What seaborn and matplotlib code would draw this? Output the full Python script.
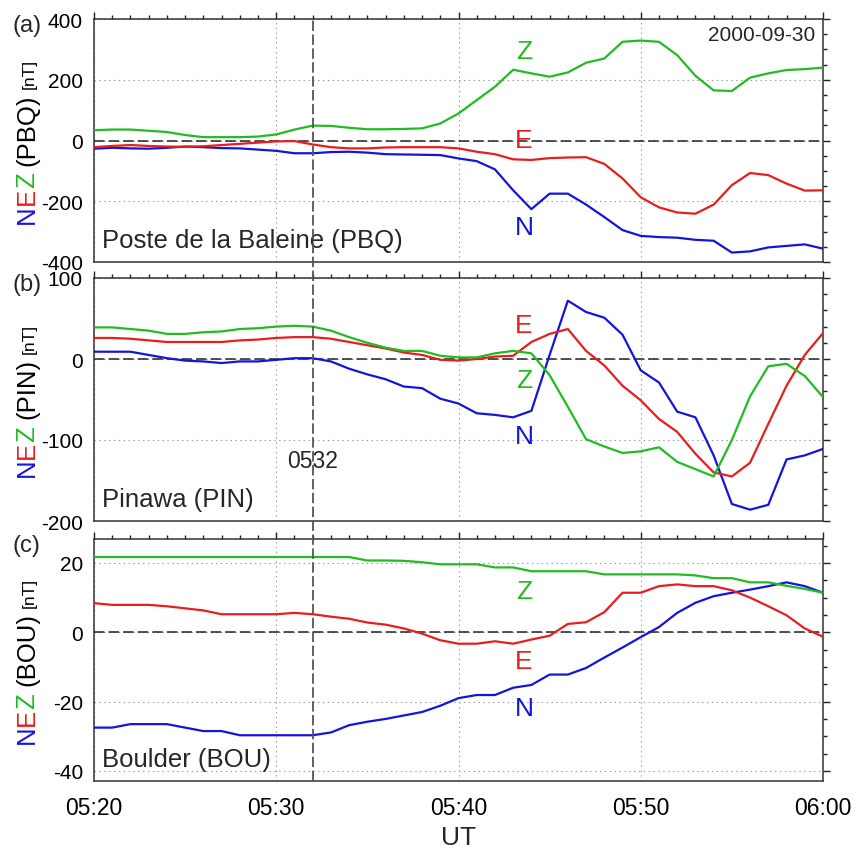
import numpy as np
import pandas as pd
import seaborn as sns
import matplotlib.pyplot as plt
import matplotlib.dates as mdates
from matplotlib.lines import Line2D
from matplotlib.ticker import MultipleLocator
from matplotlib.transforms import blended_transform_factory

# -------------------------------
# Data (1-min values, 05:20-06:00 UT, 2000-09-30)
# -------------------------------
start_time = "2000-09-30 05:20"
n_minutes = 41

pbq_n = [-27, -24, -26, -27, -24, -20, -22, -25, -26, -30, -34, -42, -42, -38, -37, -40, -45, -46, -47,
         -48, -59, -68, -95, -164, -226, -175, -175, -211, -252, -295, -314, -318, -320, -327, -330,
         -369, -365, -352, -347, -342, -356]
pbq_e = [-22, -18, -15, -18, -20, -21, -19, -15, -11, -7, -3, -2, -13, -22, -26, -26, -23, -22, -22,
         -22, -26, -37, -45, -62, -64, -58, -56, -55, -77, -125, -187, -220, -237, -241, -211,
         -147, -107, -114, -142, -165, -164]
pbq_z = [34, 36, 36, 32, 28, 18, 11, 11, 11, 13, 20, 36, 49, 48, 42, 37, 37, 38, 40,
         56, 89, 133, 177, 233, 221, 210, 224, 256, 270, 325, 329, 325, 281, 213, 165,
         163, 207, 221, 232, 235, 240]

pin_n = [9, 9, 9, 5, 1, -2, -3, -5, -3, -3, -1, 1, 1, -3, -12, -19, -25, -34, -36,
         -49, -55, -67, -69, -72, -64, 5, 72, 58, 51, 30, -14, -29, -65, -72, -119,
         -179, -186, -180, -124, -119, -111]
pin_e = [26, 26, 25, 23, 21, 21, 21, 21, 23, 24, 26, 27, 27, 25, 21, 17, 13, 8, 5,
         -1, -2, 0, 3, 4, 21, 31, 37, 10, -8, -33, -51, -74, -90, -117, -140,
         -145, -128, -80, -33, 5, 32]
pin_z = [39, 39, 37, 35, 31, 31, 33, 34, 37, 38, 40, 41, 40, 35, 27, 20, 14, 10, 10,
         4, 2, 2, 7, 10, 7, -20, -59, -99, -108, -116, -114, -109, -127, -136, -145,
         -100, -46, -9, -6, -21, -47]

bou_n = [-27.5, -27.5, -26.5, -26.5, -26.5, -27.5, -28.5, -28.5, -29.7, -29.7, -29.7, -29.7, -29.7,
         -28.9, -26.8, -25.8, -25.0, -24.0, -23.0, -21.2, -19.0, -18.1, -18.1, -16.0, -15.2,
         -12.2, -12.2, -10.3, -7.3, -4.4, -1.4, 1.5, 5.6, 8.5, 10.4, 11.4, 12.3, 13.3, 14.4,
         13.3, 11.4]
bou_e = [8.4, 7.9, 7.9, 7.9, 7.5, 6.9, 6.3, 5.2, 5.2, 5.2, 5.2, 5.6, 5.2, 4.5, 3.9, 2.8, 2.2, 1.1,
         -0.4, -2.3, -3.3, -3.3, -2.6, -3.3, -2.1, -1.0, 2.4, 2.9, 5.8, 11.4, 11.4, 13.3, 13.8,
         13.3, 13.3, 12.1, 10.0, 7.5, 4.9, 1.1, -1.3]
bou_z = [21.7] * 15 + [20.7, 20.7, 20.6, 20.2, 19.6, 19.6, 19.6, 18.7, 18.7, 17.6, 17.6, 17.6, 17.6,
                       16.7, 16.7, 16.7, 16.7, 16.7, 16.4, 15.6, 15.6, 14.4, 14.4, 13.4, 12.5, 11.4]

stations = ["Poste de la Baleine (PBQ)", "Pinawa (PIN)", "Boulder (BOU)"]
codes = ["PBQ", "PIN", "BOU"]
panel_tags = ["(a)", "(b)", "(c)"]
event_time = "2000-09-30 05:32"
event_label = "0532"
date_label = "2000-09-30"

colors = {"N": "#1414dc", "E": "#e61e1e", "Z": "#22bb22"}


def make_frame(n, e, z):
    times = pd.date_range(start_time, periods=n_minutes, freq="min")
    parts = []
    for comp, vals in (("N", n), ("E", e), ("Z", z)):
        parts.append(pd.DataFrame({"time": times, "value": vals, "comp": comp}))
    return pd.concat(parts, ignore_index=True)


frames = [make_frame(pbq_n, pbq_e, pbq_z),
          make_frame(pin_n, pin_e, pin_z),
          make_frame(bou_n, bou_e, bou_z)]

# -------------------------------
# Figure setup
# -------------------------------
sns.set_style("white")
plt.rcParams["font.family"] = ["Liberation Sans", "DejaVu Sans"]
plt.rcParams["lines.scale_dashes"] = False
plt.rcParams["axes.unicode_minus"] = False

W, H = 859, 854
fig = plt.figure(figsize=(W / 100, H / 100), dpi=100)
left, right = 94 / W, 823 / W
panel_px = [(20, 263), (279, 522), (540, 782)]
axes = []
for top, bot in panel_px:
    ax = fig.add_axes([left, 1 - bot / H, right - left, (bot - top) / H])
    axes.append(ax)
for ax in axes[1:]:
    ax.sharex(axes[0])

ylims = [(-400, 400), (-200, 100), (-42.9, 26.9)]
ymajor = [200, 100, 20]
yminor = [50, 20, 5]
# component letter positions (value at the letter's centre)
letter_pos = [
    {"Z": 294, "E": 2, "N": -284},
    {"E": 42, "Z": -26, "N": -95},
    {"Z": 11.8, "E": -8.3, "N": -21.8},
]
letter_time = pd.Timestamp("2000-09-30 05:43:36")

t0 = pd.Timestamp(start_time)
t1 = t0 + pd.Timedelta(minutes=40)

for i, ax in enumerate(axes):
    sns.lineplot(data=frames[i], x="time", y="value", hue="comp", palette=colors,
                 estimator=None, legend=False, linewidth=1.6, ax=ax, zorder=3)
    ax.set_ylim(*ylims[i])
    ax.set_xlim(t0, t1)
    ax.yaxis.set_major_locator(MultipleLocator(ymajor[i]))
    ax.yaxis.set_minor_locator(MultipleLocator(yminor[i]))
    ax.xaxis.set_major_locator(mdates.MinuteLocator(byminute=range(0, 60, 10)))
    ax.xaxis.set_minor_locator(mdates.MinuteLocator())
    ax.xaxis.set_major_formatter(mdates.DateFormatter("%H:%M"))
    ax.grid(True, which="major", color="#9a9a9a", linestyle=(0, (1, 2.5)), linewidth=0.8)
    ax.axhline(0, color="#222222", linewidth=1.1, linestyle=(0, (7.5, 3)), zorder=2)
    ax.tick_params(which="both", direction="out", top=True, right=True,
                   colors="#222222", width=1.0)
    ax.tick_params(which="major", length=5, pad=3)
    ax.tick_params(which="minor", length=2.8)
    ax.tick_params(axis="y", labelcolor="black", labelsize=15)
    ax.tick_params(axis="x", labelcolor="black", labelsize=16.5, pad=6)
    for sp in ax.spines.values():
        sp.set_color("#333333")
        sp.set_linewidth(1.1)
    ax.set_xlabel("")
    ax.set_ylabel("")
    if i < 2:
        ax.tick_params(labelbottom=False)

    ax.text(0.011, 0.04, stations[i], transform=ax.transAxes, fontsize=18.5,
            ha="left", va="bottom")
    ax.text(-0.112, 0.975, panel_tags[i], transform=ax.transAxes, fontsize=17,
            ha="left", va="center")
    for comp, yv in letter_pos[i].items():
        ax.text(letter_time, yv, comp, color=colors[comp], fontsize=19,
                ha="center", va="center")

axes[0].text(0.989, 0.975, date_label, transform=axes[0].transAxes, fontsize=15,
             ha="right", va="top")
axes[1].text(pd.Timestamp(event_time), -125, event_label, fontsize=16.5,
             ha="center", va="center")
axes[2].set_xlabel("UT", fontsize=19, labelpad=4)

# vertical event line spanning all three panels
ev = mdates.date2num(pd.Timestamp(event_time))
tr = blended_transform_factory(axes[2].transData, fig.transFigure)
fig.add_artist(Line2D([ev, ev], [1 - 782 / H, 1 - 20 / H], transform=tr,
                      color="#555555", linewidth=1.3, linestyle=(0, (7.5, 2.5)), zorder=5))

# multicolour y labels: NEZ (XXX) [nT]
fig.canvas.draw()
renderer = fig.canvas.get_renderer()
for ax, code in zip(axes, codes):
    pieces = [("N", colors["N"], 18.5, 0), ("E", colors["E"], 18.5, 0),
              ("Z", colors["Z"], 18.5, 7), ("(" + code + ")", "black", 18.5, 5),
              ("[nT]", "black", 12.5, 0)]
    texts = []
    for s, c, fs, gap in pieces:
        t = fig.text(0, 0, s, color=c, fontsize=fs, rotation=90, rotation_mode="anchor",
                     ha="left", va="baseline")
        texts.append((t, gap))
    sizes = [t.get_window_extent(renderer).height for t, _ in texts]
    total = sum(sizes) + sum(g for _, g in texts)
    bb = ax.get_window_extent(renderer)
    y = (bb.y0 + bb.y1) / 2 - total / 2
    xb = 34 * fig.bbox.width / W
    for (t, gap), h in zip(texts, sizes):
        t.set_position((xb / fig.bbox.width, y / fig.bbox.height))
        y += h + gap

fig.savefig("out.png", dpi=100)
